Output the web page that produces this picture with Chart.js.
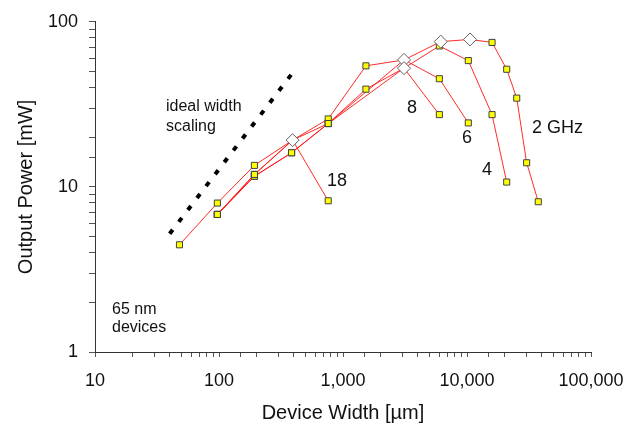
<!DOCTYPE html>
<html>
<head>
<meta charset="utf-8">
<script src="https://cdn.jsdelivr.net/npm/chart.js@4.4.1/dist/chart.umd.min.js"></script>
<style>
  html, body { margin: 0; padding: 0; background: #fff; }
  #wrap { width: 639px; height: 427px; }
</style>
</head>
<body>
<div id="wrap"><canvas id="c" width="639" height="427"></canvas></div>
<script>
// ---- data ----
const x18 = [48, 97, 193, 392, 760];
const y18 = [4.46, 7.98, 13.5, 19.2, 8.24];

const x8 = [97, 193, 392, 760, 1531, 3105, 5984];
const y8 = [6.81, 11.9, 19.2, 24.2, 39.1, 52.4, 27.4];

const x6 = [97, 193, 392, 760, 1531, 3105, 5984, 10245];
const y6 = [6.81, 11.9, 19.2, 25.8, 54.1, 58.8, 45.2, 24.4];

const x4 = [97, 193, 385, 760, 3105, 5984, 10245, 15920, 20900];
const y4 = [6.81, 11.6, 16.1, 24.2, 52.4, 71.4, 58.2, 27.4, 10.7];

const x2 = [97, 193, 385, 760, 3105, 6140, 10570, 15920, 20900, 25180, 30270, 37560];
const y2 = [6.81, 11.6, 16.1, 24.2, 58.8, 75.8, 78.2, 75.0, 51.6, 34.5, 14.0, 8.13];

// peak-power points (diamond markers)
const peakX = [392, 3105, 3105, 6140, 10570];
const peakY = [19.2, 58.8, 52.4, 75.8, 78.2];

// ideal width-scaling guide line
const idealX = [40, 400];
const idealY = [5.2, 50];

const xTickLabels = ["10", "100", "1,000", "10,000", "100,000"];
const yTickLabels = ["1", "10", "100"];

const seriesNames = ["18 GHz", "8 GHz", "6 GHz", "4 GHz", "2 GHz"];
const seriesX = [x18, x8, x6, x4, x2];
const seriesY = [y18, y8, y6, y4, y2];

// ---- build ----
const FONT = "'Liberation Sans', Arial, sans-serif";
const toPts = (xs, ys) => xs.map((x, i) => ({ x: x, y: ys[i] }));
const isPeak = (p) => peakX.some((px, i) => px === p.x && peakY[i] === p.y);

const datasets = [];
datasets.push({
  label: "peak",
  data: toPts(peakX, peakY),
  showLine: false,
  pointStyle: "rectRot",
  pointRadius: 6.5,
  pointBackgroundColor: "#ffffff",
  pointBorderColor: "#606060",
  pointBorderWidth: 1,
  order: 0
});
seriesNames.forEach((name, k) => {
  datasets.push({
    label: name,
    data: toPts(seriesX[k], seriesY[k]),
    showLine: true,
    borderColor: "rgba(255,20,20,0.9)",
    borderWidth: 1,
    pointStyle: "rect",
    pointRadius: (ctx) => (ctx.raw && isPeak(ctx.raw)) ? 0 : 4.3,
    pointBackgroundColor: "#ffff00",
    pointBorderColor: "#404040",
    pointBorderWidth: 1,
    order: 2 + k
  });
});
datasets.push({
  label: "ideal width scaling",
  data: toPts(idealX, idealY),
  showLine: true,
  borderColor: "#000000",
  borderWidth: 4,
  borderDash: [5, 10],
  borderCapStyle: "butt",
  pointRadius: 0,
  order: 10
});

const annotations = [
  { t: "ideal width", x: 166, y: 111, f: 16 },
  { t: "scaling", x: 166, y: 131, f: 16 },
  { t: "18", x: 327, y: 186, f: 18 },
  { t: "8", x: 407, y: 113, f: 18 },
  { t: "6", x: 462, y: 143, f: 18 },
  { t: "4", x: 482, y: 175, f: 18 },
  { t: "2 GHz", x: 532, y: 133, f: 18 },
  { t: "65 nm", x: 112, y: 314, f: 16 },
  { t: "devices", x: 112, y: 332, f: 16 }
];
const textPlugin = {
  id: "textLabels",
  afterDraw(chart) {
    const ctx = chart.ctx;
    ctx.save();
    ctx.fillStyle = "#111";
    ctx.textBaseline = "alphabetic";
    ctx.textAlign = "left";
    annotations.forEach(a => {
      ctx.font = a.f + "px " + FONT;
      ctx.fillText(a.t, a.x, a.y);
    });
    ctx.restore();
  }
};

const isPow10 = (v) => {
  const l = Math.log10(v);
  return Math.abs(l - Math.round(l)) < 1e-9;
};

new Chart(document.getElementById("c"), {
  type: "scatter",
  data: { datasets: datasets },
  options: {
    responsive: false,
    animation: false,
    devicePixelRatio: 1,
    layout: { padding: { top: 20, right: 48, left: 0, bottom: 0 } },
    plugins: { legend: { display: false }, tooltip: { enabled: false } },
    scales: {
      x: {
        type: "logarithmic",
        min: 10, max: 100000,
        afterFit: (s) => { s.height = 75; },
        border: { display: true, color: "#333", width: 1 },
        grid: { display: true, drawOnChartArea: false, drawTicks: true, tickLength: 5, color: "#555" },
        ticks: {
          autoSkip: false, maxRotation: 0, minRotation: 0, padding: 13,
          color: "#111", font: { family: FONT, size: 18 },
          callback: (v) => isPow10(v) ? xTickLabels[Math.round(Math.log10(v)) - 1] : ""
        },
        title: { display: true, text: "Device Width [µm]", color: "#111",
                 font: { family: FONT, size: 20 }, padding: { top: 0, bottom: 2 } }
      },
      y: {
        type: "logarithmic",
        min: 1, max: 100,
        afterFit: (s) => { s.width = 95; },
        border: { display: true, color: "#333", width: 1 },
        grid: { display: true, drawOnChartArea: false, drawTicks: true, tickLength: 6, color: "#555" },
        ticks: {
          autoSkip: false, padding: 11,
          color: "#111", font: { family: FONT, size: 18 },
          callback: (v) => isPow10(v) ? yTickLabels[Math.round(Math.log10(v))] : ""
        },
        title: { display: true, text: "Output Power [mW]", color: "#111",
                 font: { family: FONT, size: 20 }, padding: { top: 14, bottom: 0 } }
      }
    }
  },
  plugins: [textPlugin]
});
</script>
</body>
</html>
